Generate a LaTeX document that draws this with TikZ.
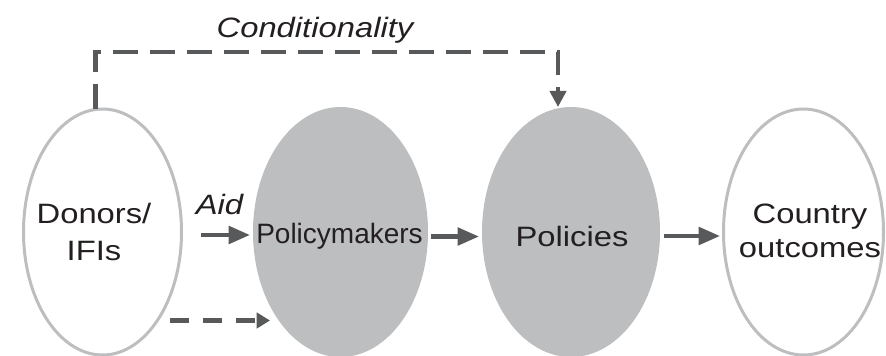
\documentclass[tikz,border=0pt]{standalone}
\usepackage{fontspec}
\setmainfont{Liberation Sans}[FakeStretch=1.17]
\newfontfamily\narrowfont{Liberation Sans}
\usetikzlibrary{arrows.meta,calc,shapes.geometric}
\definecolor{ringgray}{HTML}{BCBEC0}
\definecolor{arrowgray}{HTML}{58595B}
\definecolor{inkblack}{HTML}{231F20}
\begin{document}
\begin{tikzpicture}[x=0.75pt,y=-0.75pt,
  every node/.style={inner sep=0pt,outer sep=0pt},
  ring/.style={ellipse,draw=ringgray,line width=2.25pt,fill=white},
  disc/.style={ellipse,fill=ringgray},
  txt/.style={text=inkblack,font=\fontsize{21}{27.75}\selectfont,align=center},
  flow/.style={draw=arrowgray,line width=3.2pt,-{Triangle[length=16pt,width=13pt]}},
  dflow/.style={draw=arrowgray,line width=3.2pt,dash pattern=on 14.25pt off 10.5pt,
    -{Triangle[length=10pt,width=11.5pt]}},
  cond/.style={draw=arrowgray,line width=3.2pt,dash pattern=on 18.75pt off 9pt,
    -{Triangle[length=12pt,width=12pt]}}
]
\useasboundingbox (0,0) rectangle (886,356);

% the four actors / stages
\node[ring,minimum width=118.5pt,minimum height=184.5pt] (don) at (102.5,232) {};
\node[disc,minimum width=131.25pt,minimum height=187.5pt] (pm) at (340.5,232) {};
\node[disc,minimum width=133.5pt,minimum height=187.5pt] (pol) at (571,232) {};
\node[ring,minimum width=120pt,minimum height=184.5pt] (cty) at (803.5,232) {};

% labels
\node[txt] (dontext) at (94,231.5) {Donors/\\IFIs};
\node[txt,anchor=base] (pmtext) at (339.5,244) {\narrowfont Policymakers};
\node[txt,anchor=base] (poltext) at (572,247) {Policies};
\node[txt,font=\fontsize{21}{25.5}\selectfont] (ctytext) at (810,231) {Country\\outcomes};
\node[txt,anchor=base] (aidtext) at (219.5,215) {\itshape Aid};
\node[txt,anchor=base] (condtext) at (315,38) {\itshape Conditionality};

% causal chain
\draw[flow,shorten <=14.6pt,shorten >=2.25pt] ([yshift=-2.25pt]don.east) -- ([yshift=-2.25pt]pm.west);
\draw[flow,shorten <=2.25pt,shorten >=2.25pt] ([yshift=-3.4pt]pm.east) -- ([yshift=-3.4pt]pol.west);
\draw[flow,shorten <=3pt,shorten >=2.6pt] ([yshift=-3pt]pol.east) -- ([yshift=-3pt]cty.west);

% indirect influence
\draw[dflow] ($(don.center)+(67.5,88.5)$) -- ($(pm.center)+(-70.5,88.5)$);

% conditionality link
\draw[cond] ([xshift=-5.25pt]don.north) -- ++(0,-57) -| ([xshift=-9.75pt]pol.north);
\end{tikzpicture}
\end{document}
